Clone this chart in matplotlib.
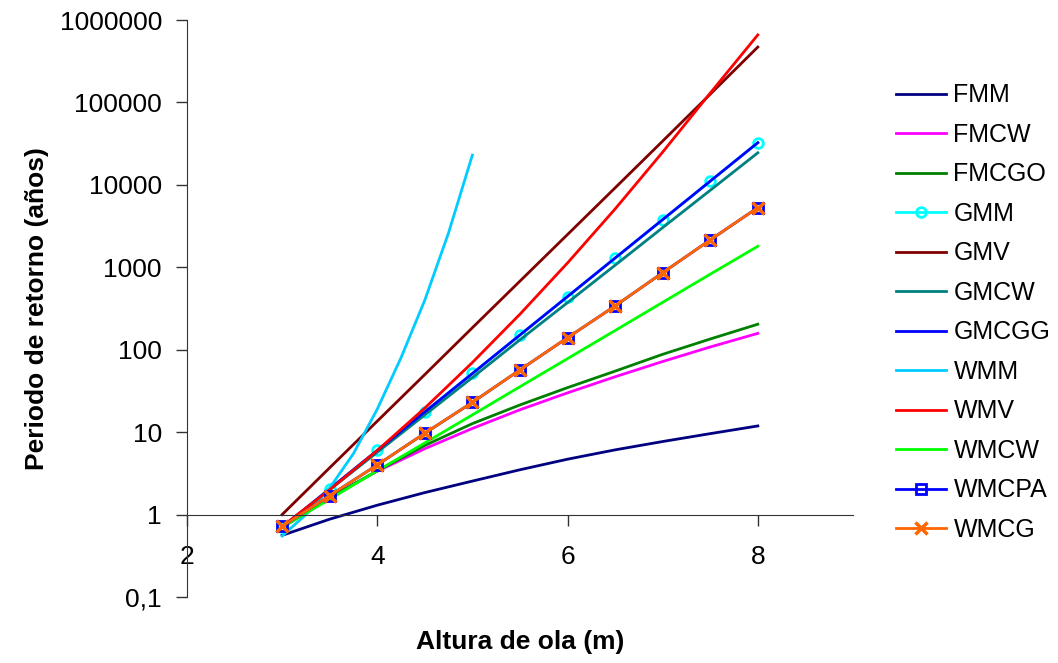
#!/usr/bin/env python3
import numpy as np
import matplotlib.pyplot as plt
from matplotlib.ticker import FixedLocator, FixedFormatter, NullLocator

plt.rcParams['font.family'] = ['Liberation Sans', 'DejaVu Sans']

altura = [3, 3.5, 4, 4.5, 5, 5.5, 6, 6.5, 7, 7.5, 8]
altura_wmm = [3, 3.25, 3.5, 3.75, 4, 4.25, 4.5, 4.75, 5]

fmm = [0.56, 0.88, 1.3, 1.85, 2.55, 3.5, 4.7, 6.1, 7.7, 9.6, 11.9]
fmcw = [0.70, 1.62, 3.36, 6.3, 11.1, 18.7, 30, 47, 72, 108, 158]
fmcgo = [0.70, 1.6, 3.4, 6.9, 12.7, 21.4, 34.7, 55, 88, 135, 204]
gmm = [0.70, 2.05, 6.0, 17.6, 51.5, 151, 442, 1295, 3790, 11100, 32500]
gmv = [1.0, 3.7, 13.6, 50, 185, 680, 2500, 9200, 34000, 126000, 470000]
gmcw = [0.70, 2.0, 5.7, 16.2, 46, 132, 373, 1060, 3030, 8600, 24500]
gmcgg = [0.70, 2.05, 6.0, 17.6, 51.5, 151, 442, 1295, 3790, 11100, 32500]
wmm = [0.55, 1.0, 2.1, 5.5, 19, 80, 400, 2630, 23000]
wmv = [0.72, 2.0, 6.0, 19.6, 70, 270, 1130, 5100, 25000, 130000, 660000]
wmcw = [0.70, 1.54, 3.4, 7.4, 16.2, 35.6, 78, 171, 376, 825, 1800]
wmcpa = [0.72, 1.7, 4.0, 9.7, 23, 57, 140, 340, 860, 2150, 5300]
wmcg = [0.72, 1.7, 4.0, 9.7, 23, 57, 140, 340, 860, 2150, 5300]

fig = plt.figure(figsize=(10.58, 6.63), dpi=100)
ax = fig.add_axes([0.1767, 0.0995, 0.6295, 0.8703])

lw = 2
ax.plot(altura, fmm, color='#000080', lw=lw, label='FMM')
ax.plot(altura, fmcw, color='#FF00FF', lw=lw, label='FMCW')
ax.plot(altura, fmcgo, color='#008000', lw=lw, label='FMCGO')
ax.plot(altura, gmm, color='#00FFFF', lw=lw, marker='o', ms=7,
        mfc='none', mec='#00FFFF', mew=2, label='GMM')
ax.plot(altura, gmv, color='#800000', lw=lw, label='GMV')
ax.plot(altura, gmcw, color='#008080', lw=lw, label='GMCW')
ax.plot(altura, gmcgg, color='#0000FF', lw=lw, label='GMCGG')
ax.plot(altura_wmm, wmm, color='#00CCFF', lw=lw, label='WMM')
ax.plot(altura, wmv, color='#FF0000', lw=lw, label='WMV')
ax.plot(altura, wmcw, color='#00FF00', lw=lw, label='WMCW')
ax.plot(altura, wmcpa, color='#0000FF', lw=lw, marker='s', ms=7,
        mfc='none', mec='#0000FF', mew=2, label='WMCPA')
ax.plot(altura, wmcg, color='#FF6600', lw=lw, marker='x', ms=8,
        mew=2.5, label='WMCG')

ax.set_yscale('log')
ax.set_ylim(0.1, 1000000)
ax.set_xlim(2, 9)

yt = [0.1, 1, 10, 100, 1000, 10000, 100000, 1000000]
ax.yaxis.set_major_locator(FixedLocator(yt))
ax.yaxis.set_major_formatter(FixedFormatter(['0,1', '1', '10', '100', '1000',
                                             '10000', '100000', '1000000']))
ax.yaxis.set_minor_locator(NullLocator())
ax.set_xticks([2, 4, 6, 8])

ax.spines['top'].set_visible(False)
ax.spines['right'].set_visible(False)
ax.spines['bottom'].set_position(('data', 1))
ax.spines['left'].set_color('#333333')
ax.spines['bottom'].set_color('#333333')
ax.tick_params(axis='both', direction='out', length=8, width=1,
               color='#333333', labelsize=19)
ax.tick_params(axis='x', pad=14)
ax.tick_params(axis='y', pad=10)

ax.set_xlabel('Altura de ola (m)', fontsize=19, fontweight='bold')
ax.xaxis.set_label_coords(0.5, -0.058)
ax.set_ylabel('Periodo de retorno (años)', fontsize=19, fontweight='bold')
ax.yaxis.set_label_coords(-0.207, 0.5)

fig.legend(loc='upper left', bbox_to_anchor=(0.835, 0.893), frameon=False,
           fontsize=18, handlelength=2.0, handletextpad=0.3,
           labelspacing=0.62, borderpad=0)

plt.savefig('out.png', dpi=100)
